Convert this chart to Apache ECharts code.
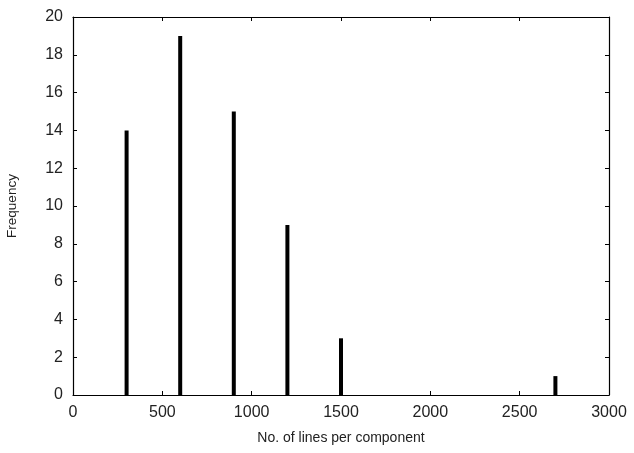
<!DOCTYPE html>
<html>
<head>
<meta charset="utf-8">
<script src="https://cdn.jsdelivr.net/npm/echarts@6/dist/echarts.min.js"></script>
<style>
  html, body { margin: 0; padding: 0; background: #fff; }
  #main { width: 634px; height: 453px; }
</style>
</head>
<body>
<div id="main"></div>
<script>
// component sizes (lines) and how many components fall at each size
var lineCounts = [300, 600, 900, 1200, 1500, 2700];
var frequency = [14, 19, 15, 9, 3, 1];

var xMin = 0, xMax = 3000, xStep = 500;
var yMin = 0, yMax = 20, yStep = 2;

var chart = echarts.init(document.getElementById('main'), null, { renderer: 'canvas' });

var points = lineCounts.map(function (x, i) { return [x, frequency[i]]; });

var font = 'Liberation Sans, Arial, sans-serif';
var axisLine = { show: true, onZero: false, lineStyle: { color: '#000', width: 1.2 } };
var tick = { show: true, inside: true, length: 4, lineStyle: { color: '#000', width: 1 } };
var plain = function (v) { return String(v); };

var option = {
  backgroundColor: '#ffffff',
  animation: false,
  grid: { left: 73, right: 25, top: 17, bottom: 58, containLabel: false, outerBoundsMode: 'none' },
  xAxis: [{
    type: 'value', min: xMin, max: xMax, interval: xStep,
    name: 'No. of lines per component',
    nameLocation: 'middle', nameGap: 36,
    nameTextStyle: { fontFamily: font, fontSize: 14, color: '#222' },
    axisLine: axisLine, axisTick: tick,
    axisLabel: { fontFamily: font, fontSize: 16, color: '#222', margin: 10, formatter: plain },
    splitLine: { show: false }
  }, {
    type: 'value', min: xMin, max: xMax, interval: xStep, position: 'top',
    axisLine: axisLine, axisTick: tick, axisLabel: { show: false }, splitLine: { show: false }
  }],
  yAxis: [{
    type: 'value', min: yMin, max: yMax, interval: yStep,
    name: 'Frequency',
    nameLocation: 'middle', nameGap: 54,
    nameTextStyle: { fontFamily: font, fontSize: 13.5, color: '#222' },
    axisLine: axisLine, axisTick: tick,
    axisLabel: { fontFamily: font, fontSize: 16, color: '#222', margin: 10, formatter: plain },
    splitLine: { show: false }
  }, {
    type: 'value', min: yMin, max: yMax, interval: yStep, position: 'right',
    axisLine: axisLine, axisTick: tick, axisLabel: { show: false }, splitLine: { show: false }
  }],
  series: [{
    type: 'bar',
    xAxisIndex: 0, yAxisIndex: 0,
    data: points,
    barWidth: 4,
    itemStyle: { color: '#000' }
  }]
};

chart.setOption(option);
</script>
</body>
</html>
